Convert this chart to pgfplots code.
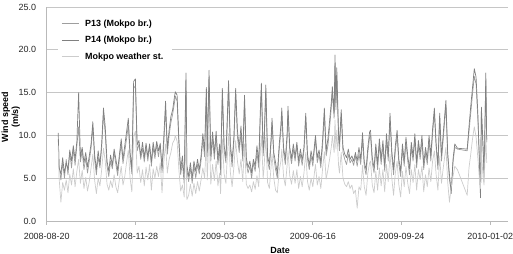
\documentclass[border=0pt]{standalone}
\usepackage{pgfplots}
\pgfplotsset{compat=1.18}
\usepackage{pgfplotstable}
\usepackage{fontspec}
\setmainfont{Liberation Sans}

\pgfplotstableread{
day p13 p14 ws
13 9.6 10.3 8.8
14 6.5 6.2 5.0
16 4.8 5.5 2.2
18 6.8 7.4 4.5
20 5.0 5.6 3.6
22 7.2 6.8 4.8
24 5.4 6.0 3.3
26 8.0 8.3 5.5
28 6.2 7.0 4.2
30 8.4 8.8 6.1
32 6.5 7.2 4.0
34 8.8 9.3 5.8
36 11.0 15.0 7.2
38 6.9 7.5 4.4
40 8.2 8.6 5.9
42 6.0 6.8 3.8
44 7.4 8.0 5.1
46 5.6 6.3 3.5
48 7.0 7.6 4.6
50 8.5 9.0 6.2
52 11.0 11.6 7.8
54 7.2 7.8 4.8
56 5.4 6.0 3.2
58 7.5 8.2 5.0
60 6.2 6.6 4.1
62 8.6 9.1 6.0
64 12.5 13.2 8.5
66 10.2 11.0 7.0
68 6.4 7.0 4.3
70 5.2 5.8 3.6
72 7.0 7.7 4.7
74 6.1 6.5 3.9
76 8.0 8.4 5.4
78 6.6 7.2 4.0
80 5.3 5.9 3.3
82 7.3 7.8 4.9
84 9.0 9.6 6.4
86 6.7 7.2 4.2
88 8.1 8.8 5.2
90 9.6 10.4 6.8
92 11.2 12.0 8.3
94 7.4 8.0 5.0
96 5.5 6.1 3.4
98 15.5 16.3 9.8
100 15.8 16.6 10.5
102 8.2 8.9 5.6
104 9.0 9.4 6.4
106 7.2 7.6 4.5
108 8.5 9.2 6.0
110 6.9 7.4 4.1
112 8.7 9.1 6.3
114 7.0 7.5 4.8
116 8.8 9.0 6.6
118 6.4 6.9 3.6
120 8.6 9.2 6.1
122 7.3 7.8 5.0
124 8.9 9.3 6.4
126 7.5 8.2 5.2
128 9.1 9.0 6.8
130 5.6 6.2 3.3
132 9.0 9.8 6.9
134 13.2 14.0 9.0
136 7.8 8.4 5.6
138 10.0 10.6 7.2
140 11.5 12.2 8.0
142 12.5 13.0 9.1
144 13.8 14.5 9.5
145 14.6 15.1 10.0
147 14.0 14.7 9.3
149 9.0 9.5 6.0
151 5.4 6.0 3.5
153 6.8 7.6 4.2
155 4.3 5.0 2.8
157 16.5 17.3 10.2
158 6.0 6.5 2.5
160 4.6 5.2 3.0
162 6.2 6.8 4.3
164 4.4 5.0 2.9
166 6.5 7.0 4.4
168 5.0 5.8 3.2
170 6.6 7.2 4.6
172 5.5 6.0 3.5
174 7.0 7.6 4.8
176 9.5 10.2 6.2
178 7.5 8.2 5.0
180 15.0 15.6 9.5
181 7.5 8.0 4.8
183 16.8 17.6 10.4
185 7.0 7.6 4.3
187 9.6 10.4 6.6
189 7.2 7.9 4.7
191 10.0 10.5 7.0
193 6.6 7.2 4.1
195 8.4 9.0 5.6
196 5.4 6.0 3.2
198 14.8 15.5 9.6
200 8.2 8.8 5.5
202 6.8 7.4 4.4
205 15.6 16.4 10.2
207 8.4 9.0 5.7
209 6.3 7.0 4.0
211 9.2 9.8 6.3
213 14.8 15.5 9.4
215 9.8 10.6 7.0
217 8.0 8.6 5.5
219 10.3 11.1 7.2
221 7.0 7.6 4.6
223 14.0 14.7 9.0
225 6.8 7.4 4.3
227 5.6 6.2 3.8
229 6.4 7.0 4.2
231 5.0 5.6 3.4
233 6.8 7.2 4.6
235 5.8 6.4 3.7
237 8.0 8.8 5.3
239 6.2 6.8 4.0
241 12.8 13.5 8.5
242 15.4 16.1 10.0
244 7.6 8.3 5.0
245 8.8 9.2 6.2
247 15.2 15.9 9.8
249 7.0 7.6 4.5
251 6.0 6.6 3.8
253 9.2 9.8 6.4
254 11.4 12.0 7.8
256 7.4 8.0 5.0
258 6.0 6.8 3.6
260 5.0 5.5 3.3
262 8.2 8.8 5.8
264 10.5 11.2 7.0
265 12.6 13.2 8.4
267 8.0 8.6 5.2
269 6.6 7.2 4.1
271 9.5 10.2 6.5
272 12.8 13.4 8.2
274 8.0 8.6 5.3
276 6.7 7.3 4.3
278 8.4 9.0 5.9
280 7.0 7.5 4.4
282 8.8 9.2 6.0
284 6.4 7.0 3.8
286 7.8 8.4 5.2
288 6.5 7.1 4.0
290 8.2 8.6 5.6
292 12.0 12.6 8.0
294 7.2 7.8 4.6
296 6.0 6.5 3.6
298 7.6 8.2 5.0
300 6.4 7.0 4.0
302 8.6 9.0 5.8
303 9.4 10.0 6.6
305 6.8 7.4 4.2
307 7.8 8.3 5.2
309 6.2 6.8 3.8
311 8.8 9.5 6.1
313 12.5 13.2 8.1
315 7.6 8.2 4.9
317 8.8 9.6 6.0
319 11.0 11.8 7.3
321 13.5 14.1 8.8
322 15.0 15.7 10.0
324 12.0 12.6 8.0
325 18.4 19.4 11.8
326 13.0 13.8 8.4
327 17.0 17.9 10.6
329 9.5 10.2 6.5
330 8.2 9.0 5.6
332 12.4 13.0 8.0
334 8.0 8.6 5.0
336 7.2 7.8 4.3
338 6.6 7.4 4.0
340 7.8 8.4 4.6
342 6.8 7.2 3.8
344 7.2 7.6 4.2
346 6.5 7.0 3.2
348 7.6 8.0 3.6
350 6.4 7.0 1.5
352 7.8 8.6 4.0
354 6.6 7.2 3.6
356 9.6 10.3 6.5
358 6.4 6.9 4.0
360 5.4 6.0 3.0
362 8.0 8.6 5.6
364 9.8 10.4 6.8
365 10.0 10.6 7.0
367 6.8 7.4 4.2
369 5.6 6.2 3.3
371 8.4 9.0 5.8
373 6.0 6.6 3.6
375 9.0 9.6 6.2
377 6.6 7.2 4.1
379 8.8 9.4 6.0
381 5.8 6.4 3.4
383 9.4 10.2 6.6
385 7.0 7.6 4.6
387 11.8 12.6 7.8
389 7.6 8.2 5.0
391 5.4 6.0 3.0
393 8.2 8.8 5.6
395 10.0 10.6 7.0
397 6.6 7.2 4.2
399 5.2 5.8 2.8
401 8.4 9.0 5.8
403 6.4 7.0 4.0
405 9.2 9.8 6.4
407 7.0 7.6 4.4
409 5.4 6.1 3.2
411 8.6 9.2 6.0
413 7.0 7.5 4.5
415 9.6 10.2 6.6
417 6.2 6.8 3.6
419 8.8 9.4 6.0
421 7.2 7.8 4.8
423 9.4 10.0 6.4
425 6.0 6.6 3.4
427 8.0 8.6 5.4
429 6.6 7.2 4.0
431 9.4 10.0 6.2
433 7.0 7.6 4.6
435 10.2 10.8 7.0
437 12.6 13.2 8.2
439 8.6 9.0 5.4
441 6.0 6.6 3.6
443 12.0 12.6 7.6
445 7.0 7.6 4.4
447 9.6 10.2 6.2
449 12.2 12.8 7.8
450 13.5 14.1 8.6
452 7.6 8.0 4.6
454 4.8 5.4 2.2
456 3.5 3.2 4.0
458 6.8 7.2 5.2
460 8.6 9.0 6.4
463 8.4 8.5 6.0
474 8.2 8.4 3.0
476 10.4 11.0 6.2
478 12.6 13.4 7.8
480 14.8 15.6 9.6
482 16.9 17.8 11.0
484 16.0 16.8 9.8
486 12.0 12.6 7.4
488 6.8 6.0 4.6
489 3.2 2.7 3.8
490 12.6 13.3 8.0
492 8.0 8.6 5.0
493 5.6 5.1 4.2
495 16.4 17.3 10.0
496 9.2 9.5 6.8
}\data

\definecolor{cP13}{gray}{0.62}
\definecolor{cP14}{gray}{0.50}
\definecolor{cWS}{gray}{0.80}

\begin{document}
\begin{tikzpicture}
\useasboundingbox (-46.7bp,-33bp) rectangle (466.3bp,221bp);
\begin{axis}[
  at={(0,0)}, anchor=south west,
  scale only axis, width=461.3bp, height=214bp,
  xmin=0, xmax=520, ymin=0, ymax=25,
  axis x line*=bottom, axis y line*=left,
  axis line style={gray!55, line width=0.8pt},
  xtick={0,100,200,300,400,500},
  xticklabels={2008-08-20,2008-11-28,2009-03-08,2009-06-16,2009-09-24,2010-01-02},
  ytick={0,5,10,15,20,25},
  yticklabels={0.0,5.0,10.0,15.0,20.0,25.0},
  xtick style={gray!55, line width=0.8pt},
  ytick style={draw=none},
  tick align=outside, major tick length=4bp,
  ymajorgrids,
  grid style={gray!45, line width=0.8pt},
  tick label style={font=\fontsize{9}{10}\selectfont, text=black!85},
  xticklabel style={yshift=-5bp},
  yticklabel style={xshift=-3bp},
  ylabel={Wind speed\\(m/s)},
  ylabel style={at={(axis description cs:-0.078,0.486)}, anchor=center, align=center, font=\bfseries\fontsize{9}{10}\selectfont},
  xlabel={Date},
  xlabel style={at={(axis description cs:0.506,-0.105)}, anchor=north, font=\bfseries\fontsize{9}{10}\selectfont},
  legend style={at={(axis description cs:0.025,0.965)}, anchor=north west, draw=none, fill=white,
    font=\bfseries\fontsize{9}{10}\selectfont, row sep=4.5bp, inner sep=3bp,
    nodes={inner xsep=6bp}},
  legend cell align=left,
  legend image code/.code={\draw[#1] (0bp,0bp) -- (17bp,0bp);},
  every axis plot/.append style={line width=0.7pt, line join=round},
]
\addplot[cP13] table[x=day, y=p13] {\data};
\addlegendentry{P13 (Mokpo br.)}
\addplot[cP14] table[x=day, y=p14] {\data};
\addlegendentry{P14 (Mokpo br.)}
\addplot[cWS] table[x=day, y=ws] {\data};
\addlegendentry{Mokpo weather st.}
\end{axis}
\end{tikzpicture}
\end{document}
